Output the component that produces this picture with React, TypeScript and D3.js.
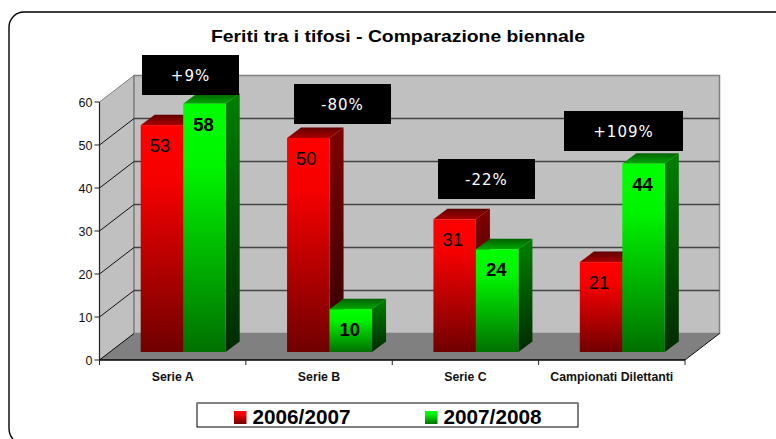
import React from "react";
import * as d3 from "d3";

const title = "Feriti tra i tifosi - Comparazione biennale";
const categories = ["Serie A", "Serie B", "Serie C", "Campionati Dilettanti"];
const seriesNames = ["2006/2007", "2007/2008"];
const values0607 = [53, 50, 31, 21];
const values0708 = [58, 10, 24, 44];
const yTicks = [0, 10, 20, 30, 40, 50, 60];
const changes = ["+9%", "-80%", "-22%", "+109%"];

// plot geometry
const x0 = 99.5;
const x1 = 685;
const yZero = 360;
const yTop = 102;
const depthX = 34.5;
const depthY = 26.5;
const barDx = 14;
const barDy = 10.5;

const x = d3.scaleBand<string>().domain(categories).range([x0, x1]);
const y = d3.scaleLinear().domain([0, 60]).range([yZero, yTop]);
const barY = d3.scaleLinear().domain([0, 60]).range([352, 95.2]);
const barW = 42.5;
const barShift = 10.5;

const calloutBoxes = [
  { x: 142, y: 55, w: 97 },
  { x: 294, y: 84, w: 97 },
  { x: 438, y: 159, w: 97 },
  { x: 564, y: 111, w: 119 },
];

const line = d3.line();

function Stops({ id, stops }: { id: string; stops: [number, string][] }) {
  return (
    <linearGradient id={id} x1="0" y1="0" x2="0" y2="1">
      {stops.map(([o, c]) => (
        <stop key={o} offset={o} stopColor={c} />
      ))}
    </linearGradient>
  );
}

function Bar({ cx, value, kind }: { cx: number; value: number; kind: "r" | "g" }) {
  const top = barY(value);
  const bottom = barY(0);
  const right = cx + barW;
  const side: [number, number][] = [
    [right, top],
    [right + barDx, top - barDy],
    [right + barDx, bottom - barDy],
    [right, bottom],
  ];
  const cap: [number, number][] = [
    [cx, top],
    [cx + barDx, top - barDy],
    [right + barDx, top - barDy],
    [right, top],
  ];
  return (
    <g>
      <path d={line(side) + "Z"} fill={`url(#${kind}Side)`} />
      <path d={line(cap) + "Z"} fill={`url(#${kind}Cap)`} />
      <rect x={cx} y={top} width={barW} height={bottom - top} fill={`url(#${kind}Front)`} />
    </g>
  );
}

export default function App() {
  return (
    <svg
      width={776}
      height={439}
      style={{ position: "absolute", left: 0, top: 0, fontFamily: "'Liberation Sans', Arial, sans-serif" }}
    >
      <defs>
        <Stops id="rFront" stops={[[0, "#ff0000"], [0.25, "#f50000"], [1, "#700000"]]} />
        <Stops id="rSide" stops={[[0, "#800000"], [1, "#300000"]]} />
        <Stops id="rCap" stops={[[0, "#600000"], [1, "#a80000"]]} />
        <Stops id="gFront" stops={[[0, "#00ff00"], [0.25, "#00f500"], [1, "#007000"]]} />
        <Stops id="gSide" stops={[[0, "#008000"], [1, "#002a00"]]} />
        <Stops id="gCap" stops={[[0, "#006000"], [1, "#00a800"]]} />
      </defs>

      <rect width={776} height={439} fill="#fff" />
      {/* frame: only the left and top edges are inside the picture */}
      <path
        d="M776,12 H24 A15,15 0 0 0 9,27 V428 Q9,435 13,439"
        fill="none"
        stroke="#000"
        strokeWidth={1.4}
      />

      <text x={398} y={41.5} textAnchor="middle" fontSize={17} fontWeight="bold" textLength={374} lengthAdjust="spacingAndGlyphs">
        {title}
      </text>

      {/* walls and floor */}
      <path
        d={line([[x0, yTop], [x0 + depthX, yTop - depthY], [x0 + depthX, yZero - depthY], [x0, yZero]]) + "Z"}
        fill="#c0c0c0"
        stroke="#808080"
      />
      <rect
        x={x0 + depthX}
        y={yTop - depthY}
        width={x1 - x0}
        height={yZero - yTop}
        fill="#c0c0c0"
        stroke="#808080"
        strokeWidth={1.5}
      />
      <path
        d={line([[x0, yZero], [x0 + depthX, yZero - depthY], [x1 + depthX, yZero - depthY], [x1, yZero]]) + "Z"}
        fill="#808080"
      />

      {/* gridlines */}
      {yTicks.filter((t) => t > 0 && t < 60).map((t) => (
        <g key={t}>
          <line x1={x0} y1={y(t)} x2={x0 + depthX} y2={y(t) - depthY} stroke="#111" />
          <line x1={x0 + depthX} y1={y(t) - depthY} x2={x1 + depthX} y2={y(t) - depthY} stroke="#444" strokeWidth={1.3} />
        </g>
      ))}

      {/* axes */}
      <line x1={x0} y1={yTop} x2={x0} y2={yZero} stroke="#222" strokeWidth={1.2} />
      <line x1={x0} y1={yZero} x2={x0 + depthX} y2={yZero - depthY} stroke="#111" />
      <line x1={x1} y1={yZero} x2={x1 + depthX} y2={yZero - depthY} stroke="#111" />
      <line x1={x0} y1={yZero} x2={x1} y2={yZero} stroke="#000" strokeWidth={1.5} />
      {yTicks.map((t) => (
        <g key={t}>
          <line x1={x0 - 5} y1={y(t)} x2={x0} y2={y(t)} stroke="#222" />
          <text x={x0 - 7} y={y(t) + 4.5} textAnchor="end" fontSize={12.5} fill="#111">
            {t}
          </text>
        </g>
      ))}
      {categories.map((c) => (
        <g key={c}>
          <line x1={x(c)!} y1={yZero} x2={x(c)!} y2={yZero + 5} stroke="#222" />
          <text x={x(c)! + x.bandwidth() / 2} y={381} textAnchor="middle" fontSize={12.3} fontWeight="bold" fill="#111">
            {c}
          </text>
        </g>
      ))}
      <line x1={x1} y1={yZero} x2={x1} y2={yZero + 5} stroke="#222" />

      {/* bars */}
      {categories.map((c, i) => {
        const mid = x(c)! + x.bandwidth() / 2 + barShift;
        return (
          <g key={c}>
            <Bar cx={mid - barW} value={values0607[i]} kind="r" />
            <Bar cx={mid} value={values0708[i]} kind="g" />
            <text x={mid - barW / 2 - 2} y={barY(values0607[i]) + 26.5} textAnchor="middle" fontSize={18.5}>
              {values0607[i]}
            </text>
            <text x={mid + barW / 2 - 1} y={barY(values0708[i]) + 27} textAnchor="middle" fontSize={18.5} fontWeight="bold">
              {values0708[i]}
            </text>
          </g>
        );
      })}

      {/* percentage callouts */}
      {changes.map((t, i) => {
        const b = calloutBoxes[i];
        return (
          <g key={t}>
            <rect x={b.x} y={b.y} width={b.w} height={40} fill="#000" />
            <text
              x={b.x + b.w / 2}
              y={b.y + 25.5}
              textAnchor="middle"
              fontSize={15}
              fontWeight={500}
              letterSpacing={1}
              fill="#fff"
              style={{ fontFamily: "'DejaVu Sans'" }}
            >
              {t}
            </text>
          </g>
        );
      })}

      {/* legend */}
      <rect x={197} y={403} width={381} height={24} fill="#fff" stroke="#000" />
      <line x1={197} y1={403} x2={578} y2={403} stroke="#808080" strokeWidth={2} />
      {seriesNames.map((s, i) => {
        const lx = i === 0 ? 234 : 425;
        return (
          <g key={s}>
            <rect x={lx} y={411} width={12.5} height={13} fill={i === 0 ? "url(#rFront)" : "url(#gFront)"} />
            <text x={lx + 18.5} y={424} fontSize={20.5} fontWeight="bold" textLength={98} lengthAdjust="spacingAndGlyphs">
              {s}
            </text>
          </g>
        );
      })}
    </svg>
  );
}
